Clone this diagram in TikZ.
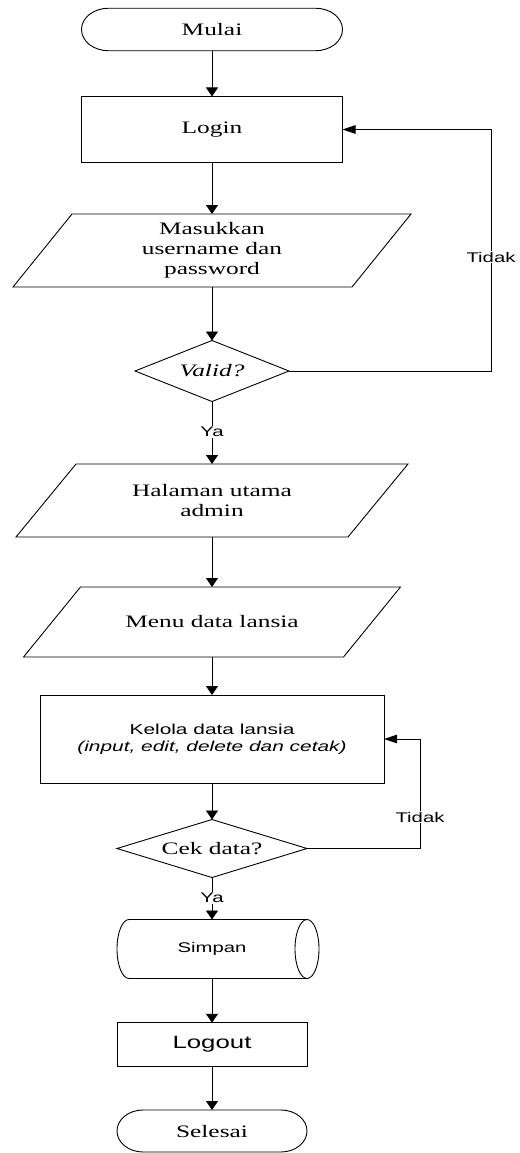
\documentclass[tikz,border=0pt]{standalone}
\usepackage{fontspec}
\setmainfont{Liberation Serif}[FakeStretch=1.45]
\newfontfamily\arialf{Liberation Sans}[FakeStretch=1.45]
\usetikzlibrary{arrows.meta,shapes.geometric}
\begin{document}
\begin{tikzpicture}[x=1pt,y=-1pt,
  ln/.style={draw=black,line width=0.9pt},
  varr/.style={ln,-{Triangle[length=9pt,width=12pt]}},
  harr/.style={ln,-{Triangle[length=13pt,width=8.5pt]}},
  serif/.style={font=\fontsize{17.5}{20}\selectfont, align=center},
  sans/.style={font=\arialf\fontsize{14}{16.7}\selectfont, align=center},
  shapetext/.style={draw=none, inner sep=0pt, outer sep=0pt},
  procbox/.style={ln, rectangle, inner sep=0pt, outer sep=0pt},
  decision/.style={ln, diamond, inner sep=0pt, outer sep=0pt, aspect=2.5},
  lbl/.style={sans, fill=white, inner sep=1pt},
]
\path[use as bounding box] (0,0) rectangle (519,1153);

% Mulai
\node[shapetext, serif, minimum width=261pt, minimum height=42.5pt] (start) at (212,29.5) {Mulai};
\draw[ln] ([xshift=27pt]start.north west) -- ([xshift=-27pt]start.north east)
  arc[start angle=90,end angle=-90,x radius=27pt,y radius=21.25pt]
  -- ([xshift=27pt]start.south west)
  arc[start angle=270,end angle=90,x radius=27pt,y radius=21.25pt] -- cycle;

% Login
\node[procbox, serif, minimum width=261pt, minimum height=66pt] (login) at (212,129.5) {Login};

% Input
\node[shapetext, serif, minimum width=339pt, minimum height=73pt] (inp) at (212,250.5) {Masukkan\\username dan\\password};
\draw[ln] ([xshift=29.5pt]inp.north west) -- ([xshift=29.5pt]inp.north east)
  -- ([xshift=-29.5pt]inp.south east) -- ([xshift=-29.5pt]inp.south west) -- cycle;

% Valid?
\node[decision, serif, minimum width=154pt, minimum height=61pt] (valid) at (212,371) {\itshape Valid?};

% Halaman utama
\node[shapetext, serif, minimum width=332pt, minimum height=73pt] (home) at (212,500.5) {Halaman utama\\admin};
\draw[ln] ([xshift=30pt]home.north west) -- ([xshift=30pt]home.north east)
  -- ([xshift=-30pt]home.south east) -- ([xshift=-30pt]home.south west) -- cycle;

% Menu data lansia
\node[shapetext, serif, minimum width=320pt, minimum height=70pt] (menu) at (212,622) {Menu data lansia};
\draw[ln] ([xshift=28.5pt]menu.north west) -- ([xshift=28.5pt]menu.north east)
  -- ([xshift=-28.5pt]menu.south east) -- ([xshift=-28.5pt]menu.south west) -- cycle;

% Kelola
\node[procbox, sans, font=\arialf\fontsize{14.4}{16.7}\selectfont, minimum width=344pt, minimum height=88pt] (kelola) at (212,739) {Kelola data lansia\\\textit{(input, edit, delete dan cetak)}};

% Cek data?
\node[decision, serif, minimum width=190pt, minimum height=58pt] (cek) at (212,848.5) {Cek data?};

% Simpan
\node[shapetext, sans, minimum width=190pt, minimum height=59pt] (sim) at (212,949) {Simpan};
\draw[ln] (sim.north east) -- ([xshift=12pt]sim.north west)
  arc[start angle=90,end angle=270,x radius=12pt,y radius=29.5pt] -- (sim.south east);
\draw[ln] (sim.east) ellipse[x radius=12pt,y radius=29.5pt];

% Logout
\node[procbox, sans, font=\arialf\fontsize{17.8}{20}\selectfont, minimum width=190pt, minimum height=43.5pt] (logout) at (212,1044.5) {Logout};

% Selesai
\node[shapetext, serif, minimum width=190pt, minimum height=42pt] (end) at (212,1131) {Selesai};
\draw[ln] ([xshift=26pt]end.north west) -- ([xshift=-26pt]end.north east)
  arc[start angle=90,end angle=-90,x radius=26pt,y radius=21pt]
  -- ([xshift=26pt]end.south west)
  arc[start angle=270,end angle=90,x radius=26pt,y radius=21pt] -- cycle;

% connectors
\draw[varr] (start.south) -- (login.north);
\draw[varr] (login.south) -- (inp.north);
\draw[varr] (inp.south) -- (valid.north);
\coordinate (r1) at (491,250);
\draw[harr] (valid.east) -- (valid.east -| r1) -- (login.east -| r1) -- (login.east);
\node[lbl] (t1) at (491,257) {Tidak};
\draw[varr] (valid.south) -- (home.north);
\node[lbl] (y1) at (212,432) {Ya};
\draw[varr] (home.south) -- (menu.north);
\draw[varr] (menu.south) -- (kelola.north);
\draw[varr] (kelola.south) -- (cek.north);
\coordinate (r2) at (420,800);
\draw[harr] (cek.east) -- (cek.east -| r2) -- (kelola.east -| r2) -- (kelola.east);
\node[lbl] (t2) at (420,817) {Tidak};
\draw[varr] (cek.south) -- (sim.north);
\node[lbl] (y2) at (212,898) {Ya};
\draw[varr] (sim.south) -- (logout.north);
\draw[varr] (logout.south) -- (end.north);
\end{tikzpicture}
\end{document}
